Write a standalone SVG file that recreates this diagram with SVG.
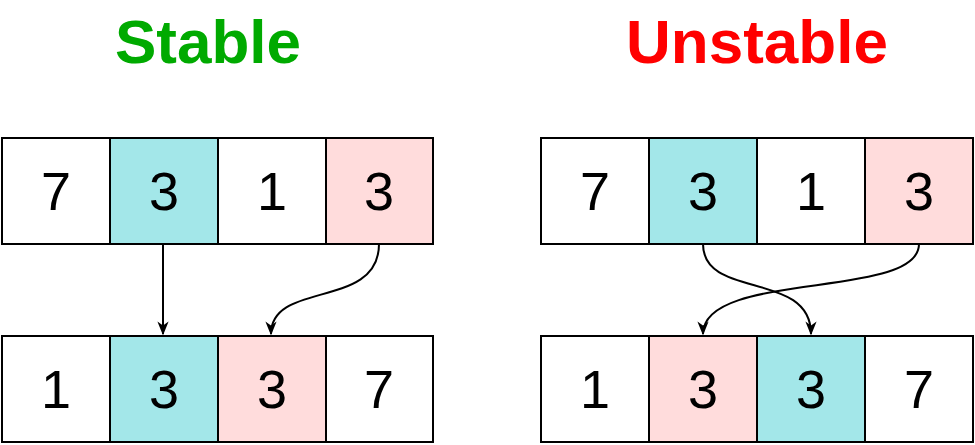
<svg xmlns="http://www.w3.org/2000/svg" width="975" height="445" viewBox="0 0 975 445">
<style>
.c{stroke:#000;stroke-width:2}
.w{fill:#fff}.b{fill:#a3e7e9}.p{fill:#ffdcdc}
.t{font-family:"Liberation Sans",Arial,sans-serif;font-size:54px;text-anchor:middle;dominant-baseline:central}
.h{font-family:"Liberation Sans",Arial,sans-serif;font-size:62px;font-weight:bold;text-anchor:middle}
.a{fill:none;stroke:#000;stroke-width:2;marker-end:url(#m)}
</style>
<defs><marker id="m" viewBox="0 0 10 10" refX="9" refY="5" markerWidth="7" markerHeight="7" orient="auto"><path d="M0,1 L10,5 L0,9 L3,5 Z" fill="#000"/></marker></defs>
<rect width="975" height="445" fill="#fff"/>
<text class="h" x="208" y="63" fill="#00aa00">Stable</text>
<text class="h" x="757" y="63" fill="#ff0000">Unstable</text>
<g id="stable-top">
<rect class="c w" x="2" y="138" width="108" height="106"/><text class="t" x="56" y="191">7</text>
<rect class="c b" x="110" y="138" width="108" height="106"/><text class="t" x="164" y="191">3</text>
<rect class="c w" x="218" y="138" width="108" height="106"/><text class="t" x="272" y="191">1</text>
<rect class="c p" x="326" y="138" width="107" height="106"/><text class="t" x="379" y="191">3</text>
</g>
<g id="stable-bottom">
<rect class="c w" x="2" y="336" width="108" height="106"/><text class="t" x="56" y="389">1</text>
<rect class="c b" x="110" y="336" width="108" height="106"/><text class="t" x="164" y="389">3</text>
<rect class="c p" x="218" y="336" width="108" height="106"/><text class="t" x="272" y="389">3</text>
<rect class="c w" x="326" y="336" width="107" height="106"/><text class="t" x="379" y="389">7</text>
</g>
<g id="unstable-top">
<rect class="c w" x="541" y="138" width="108" height="106"/><text class="t" x="595" y="191">7</text>
<rect class="c b" x="649" y="138" width="108" height="106"/><text class="t" x="703" y="191">3</text>
<rect class="c w" x="757" y="138" width="108" height="106"/><text class="t" x="811" y="191">1</text>
<rect class="c p" x="865" y="138" width="108" height="106"/><text class="t" x="919" y="191">3</text>
</g>
<g id="unstable-bottom">
<rect class="c w" x="541" y="336" width="108" height="106"/><text class="t" x="595" y="389">1</text>
<rect class="c p" x="649" y="336" width="108" height="106"/><text class="t" x="703" y="389">3</text>
<rect class="c b" x="757" y="336" width="108" height="106"/><text class="t" x="811" y="389">3</text>
<rect class="c w" x="865" y="336" width="108" height="106"/><text class="t" x="919" y="389">7</text>
</g>
<g id="connectors">
<path class="a" d="M163,244 L163,334"/>
<path class="a" d="M379,244 C379,310 271,280 271,334"/>
<path class="a" d="M703,244 C703,300 811,270 811,334"/>
<path class="a" d="M919,244 C919,300 703,270 703,334"/>
</g>
</svg>
